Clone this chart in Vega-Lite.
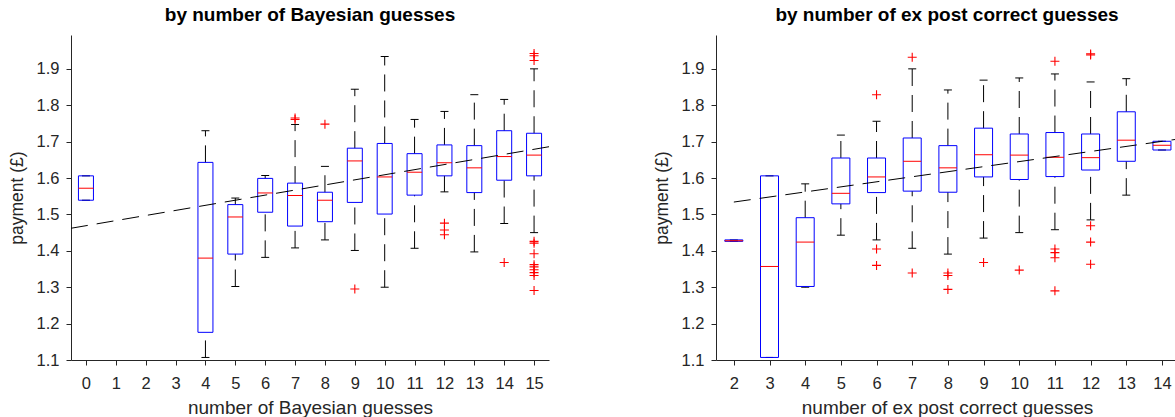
{
  "$schema": "https://vega.github.io/schema/vega-lite/v6.json",
  "padding": {"left": 8, "top": 6, "right": 0, "bottom": 0},
  "spacing": 102,
  "config": {
    "view": {"stroke": null},
    "font": "Liberation Sans",
    "scale": {"continuousPadding": 0},
    "axis": {
      "grid": false,
      "domainColor": "#262626",
      "tickColor": "#262626",
      "labelColor": "#262626",
      "titleColor": "#262626",
      "labelFontSize": 16.5,
      "titleFontWeight": "normal",
      "tickSize": 5,
      "labelOverlap": false,
      "labelFlush": false
    },
    "axisX": {"labelPadding": 10, "titlePadding": 6.5, "titleFontSize": 19, "tickCount": 16},
    "axisY": {"labelPadding": 7, "titlePadding": 10, "titleFontSize": 17.5, "tickCount": 9},
    "title": {"fontSize": 19, "fontWeight": "bold", "color": "#000000", "offset": 10}
  },
  "datasets": {
    "bayes": [
      {"cat": 0, "lo": 1.539, "q1": 1.539, "med": 1.572, "q3": 1.606, "hi": 1.606},
      {"cat": 4, "lo": 1.107, "q1": 1.176, "med": 1.380, "q3": 1.643, "hi": 1.730},
      {"cat": 5, "lo": 1.302, "q1": 1.391, "med": 1.493, "q3": 1.527, "hi": 1.545},
      {"cat": 6, "lo": 1.382, "q1": 1.506, "med": 1.559, "q3": 1.599, "hi": 1.607},
      {"cat": 7, "lo": 1.408, "q1": 1.468, "med": 1.552, "q3": 1.586, "hi": 1.747},
      {"cat": 8, "lo": 1.430, "q1": 1.480, "med": 1.539, "q3": 1.561, "hi": 1.632},
      {"cat": 9, "lo": 1.401, "q1": 1.533, "med": 1.647, "q3": 1.682, "hi": 1.844},
      {"cat": 10, "lo": 1.300, "q1": 1.501, "med": 1.603, "q3": 1.695, "hi": 1.934},
      {"cat": 11, "lo": 1.407, "q1": 1.553, "med": 1.616, "q3": 1.667, "hi": 1.761},
      {"cat": 12, "lo": 1.562, "q1": 1.606, "med": 1.642, "q3": 1.691, "hi": 1.783},
      {"cat": 13, "lo": 1.397, "q1": 1.560, "med": 1.628, "q3": 1.689, "hi": 1.829},
      {"cat": 14, "lo": 1.475, "q1": 1.594, "med": 1.659, "q3": 1.730, "hi": 1.816},
      {"cat": 15, "lo": 1.450, "q1": 1.606, "med": 1.663, "q3": 1.723, "hi": 1.900}
    ],
    "bayesOut": [
      {"cat": 7, "v": 1.765}, {"cat": 7, "v": 1.761},
      {"cat": 8, "v": 1.748},
      {"cat": 9, "v": 1.295},
      {"cat": 12, "v": 1.476}, {"cat": 12, "v": 1.457}, {"cat": 12, "v": 1.444},
      {"cat": 14, "v": 1.368},
      {"cat": 15, "v": 1.942}, {"cat": 15, "v": 1.936}, {"cat": 15, "v": 1.923},
      {"cat": 15, "v": 1.426}, {"cat": 15, "v": 1.421}, {"cat": 15, "v": 1.392},
      {"cat": 15, "v": 1.362}, {"cat": 15, "v": 1.356}, {"cat": 15, "v": 1.348},
      {"cat": 15, "v": 1.340}, {"cat": 15, "v": 1.332}, {"cat": 15, "v": 1.291}
    ],
    "bayesFit": [
      {"x": -0.5, "y": 1.462},
      {"x": 15.5, "y": 1.686}
    ],
    "post": [
      {"cat": 2, "lo": 1.426, "q1": 1.426, "med": 1.428, "q3": 1.430, "hi": 1.430},
      {"cat": 3, "lo": 1.107, "q1": 1.107, "med": 1.357, "q3": 1.606, "hi": 1.606},
      {"cat": 4, "lo": 1.300, "q1": 1.302, "med": 1.424, "q3": 1.491, "hi": 1.584},
      {"cat": 5, "lo": 1.443, "q1": 1.529, "med": 1.558, "q3": 1.655, "hi": 1.718},
      {"cat": 6, "lo": 1.430, "q1": 1.560, "med": 1.603, "q3": 1.655, "hi": 1.756},
      {"cat": 7, "lo": 1.407, "q1": 1.564, "med": 1.646, "q3": 1.710, "hi": 1.900},
      {"cat": 8, "lo": 1.391, "q1": 1.561, "med": 1.628, "q3": 1.689, "hi": 1.842},
      {"cat": 9, "lo": 1.435, "q1": 1.603, "med": 1.664, "q3": 1.737, "hi": 1.869},
      {"cat": 10, "lo": 1.450, "q1": 1.596, "med": 1.663, "q3": 1.721, "hi": 1.875},
      {"cat": 11, "lo": 1.458, "q1": 1.604, "med": 1.657, "q3": 1.725, "hi": 1.886},
      {"cat": 12, "lo": 1.485, "q1": 1.622, "med": 1.656, "q3": 1.721, "hi": 1.864},
      {"cat": 13, "lo": 1.553, "q1": 1.646, "med": 1.704, "q3": 1.782, "hi": 1.873},
      {"cat": 14, "lo": 1.677, "q1": 1.677, "med": 1.690, "q3": 1.701, "hi": 1.701}
    ],
    "postOut": [
      {"cat": 6, "v": 1.829}, {"cat": 6, "v": 1.405}, {"cat": 6, "v": 1.360},
      {"cat": 7, "v": 1.932}, {"cat": 7, "v": 1.339},
      {"cat": 8, "v": 1.339}, {"cat": 8, "v": 1.332}, {"cat": 8, "v": 1.294},
      {"cat": 9, "v": 1.368},
      {"cat": 10, "v": 1.347},
      {"cat": 11, "v": 1.921}, {"cat": 11, "v": 1.405}, {"cat": 11, "v": 1.395}, {"cat": 11, "v": 1.381}, {"cat": 11, "v": 1.290},
      {"cat": 12, "v": 1.941}, {"cat": 12, "v": 1.938}, {"cat": 12, "v": 1.469}, {"cat": 12, "v": 1.424}, {"cat": 12, "v": 1.363}
    ],
    "postFit": [
      {"x": 2, "y": 1.534},
      {"x": 14.45, "y": 1.707}
    ]
  },
  "hconcat": [
    {
      "width": 478,
      "height": 325,
      "title": "by number of Bayesian guesses",
      "layer": [
        {
          "data": {"name": "bayes"},
          "mark": {"type": "rule", "color": "#000000", "strokeWidth": 1, "strokeDash": [17, 9]},
          "encoding": {
            "x": {"field": "cat", "type": "quantitative", "scale": {"domain": [-0.5, 15.5], "nice": false, "zero": false, "padding": 0},
              "axis": {"values": [0,1,2,3,4,5,6,7,8,9,10,11,12,13,14,15], "tickCount": 16, "title": "number of Bayesian guesses", "format": "d", "labelOverlap": false, "labelBound": false}},
            "y": {"field": "q3", "type": "quantitative", "scale": {"domain": [1.1, 1.993], "nice": false, "zero": false, "padding": 0},
              "axis": {"values": [1.1,1.2,1.3,1.4,1.5,1.6,1.7,1.8,1.9], "format": ".1f", "title": "payment (£)", "labelOverlap": false}},
            "y2": {"field": "hi"}
          }
        },
        {
          "data": {"name": "bayes"},
          "mark": {"type": "rule", "color": "#000000", "strokeWidth": 1, "strokeDash": [17, 9]},
          "encoding": {
            "x": {"field": "cat", "type": "quantitative"},
            "y": {"field": "lo", "type": "quantitative"},
            "y2": {"field": "q1"}
          }
        },
        {
          "data": {"name": "bayes"},
          "mark": {"type": "tick", "orient": "horizontal", "color": "#000000", "size": 8, "thickness": 1, "opacity": 1},
          "encoding": {
            "x": {"field": "cat", "type": "quantitative"},
            "y": {"field": "hi", "type": "quantitative"}
          }
        },
        {
          "data": {"name": "bayes"},
          "mark": {"type": "tick", "orient": "horizontal", "color": "#000000", "size": 8, "thickness": 1, "opacity": 1},
          "encoding": {
            "x": {"field": "cat", "type": "quantitative"},
            "y": {"field": "lo", "type": "quantitative"}
          }
        },
        {
          "data": {"name": "bayes"},
          "mark": {"type": "bar", "orient": "vertical", "size": 15, "fill": "transparent", "stroke": "#0000ff", "strokeWidth": 1},
          "encoding": {
            "x": {"field": "cat", "type": "quantitative"},
            "y": {"field": "q1", "type": "quantitative"},
            "y2": {"field": "q3"}
          }
        },
        {
          "data": {"name": "bayes"},
          "mark": {"type": "tick", "orient": "horizontal", "color": "#ff0000", "size": 15, "thickness": 1, "opacity": 1},
          "encoding": {
            "x": {"field": "cat", "type": "quantitative"},
            "y": {"field": "med", "type": "quantitative"}
          }
        },
        {
          "data": {"name": "bayesOut"},
          "mark": {"type": "point", "shape": "M-1,0L1,0M0,-1L0,1", "filled": false, "stroke": "#ff0000", "strokeWidth": 1.1, "size": 81, "opacity": 1},
          "encoding": {
            "x": {"field": "cat", "type": "quantitative"},
            "y": {"field": "v", "type": "quantitative"}
          }
        },
        {
          "data": {"name": "bayesFit"},
          "mark": {"type": "line", "color": "#000000", "strokeWidth": 1, "strokeDash": [17, 9]},
          "encoding": {
            "x": {"field": "x", "type": "quantitative"},
            "y": {"field": "y", "type": "quantitative"}
          }
        }
      ]
    },
    {
      "width": 462,
      "height": 325,
      "title": "by number of ex post correct guesses",
      "layer": [
        {
          "data": {"name": "post"},
          "mark": {"type": "rule", "color": "#000000", "strokeWidth": 1, "strokeDash": [17, 9]},
          "encoding": {
            "x": {"field": "cat", "type": "quantitative", "scale": {"domain": [1.5, 14.45], "nice": false, "zero": false, "padding": 0},
              "axis": {"values": [2,3,4,5,6,7,8,9,10,11,12,13,14], "tickCount": 16, "title": "number of ex post correct guesses", "format": "d", "labelOverlap": false, "labelBound": false}},
            "y": {"field": "q3", "type": "quantitative", "scale": {"domain": [1.1, 1.993], "nice": false, "zero": false, "padding": 0},
              "axis": {"values": [1.1,1.2,1.3,1.4,1.5,1.6,1.7,1.8,1.9], "format": ".1f", "title": "payment (£)", "labelOverlap": false}},
            "y2": {"field": "hi"}
          }
        },
        {
          "data": {"name": "post"},
          "mark": {"type": "rule", "color": "#000000", "strokeWidth": 1, "strokeDash": [17, 9]},
          "encoding": {
            "x": {"field": "cat", "type": "quantitative"},
            "y": {"field": "lo", "type": "quantitative"},
            "y2": {"field": "q1"}
          }
        },
        {
          "data": {"name": "post"},
          "mark": {"type": "tick", "orient": "horizontal", "color": "#000000", "size": 8, "thickness": 1, "opacity": 1},
          "encoding": {
            "x": {"field": "cat", "type": "quantitative"},
            "y": {"field": "hi", "type": "quantitative"}
          }
        },
        {
          "data": {"name": "post"},
          "mark": {"type": "tick", "orient": "horizontal", "color": "#000000", "size": 8, "thickness": 1, "opacity": 1},
          "encoding": {
            "x": {"field": "cat", "type": "quantitative"},
            "y": {"field": "lo", "type": "quantitative"}
          }
        },
        {
          "data": {"name": "post"},
          "mark": {"type": "bar", "orient": "vertical", "size": 18, "fill": "transparent", "stroke": "#0000ff", "strokeWidth": 1},
          "encoding": {
            "x": {"field": "cat", "type": "quantitative"},
            "y": {"field": "q1", "type": "quantitative"},
            "y2": {"field": "q3"}
          }
        },
        {
          "data": {"name": "post"},
          "mark": {"type": "tick", "orient": "horizontal", "color": "#ff0000", "size": 18, "thickness": 1, "opacity": 1},
          "encoding": {
            "x": {"field": "cat", "type": "quantitative"},
            "y": {"field": "med", "type": "quantitative"}
          }
        },
        {
          "data": {"name": "postOut"},
          "mark": {"type": "point", "shape": "M-1,0L1,0M0,-1L0,1", "filled": false, "stroke": "#ff0000", "strokeWidth": 1.1, "size": 81, "opacity": 1},
          "encoding": {
            "x": {"field": "cat", "type": "quantitative"},
            "y": {"field": "v", "type": "quantitative"}
          }
        },
        {
          "data": {"name": "postFit"},
          "mark": {"type": "line", "color": "#000000", "strokeWidth": 1, "strokeDash": [17, 9]},
          "encoding": {
            "x": {"field": "x", "type": "quantitative"},
            "y": {"field": "y", "type": "quantitative"}
          }
        }
      ]
    }
  ]
}
